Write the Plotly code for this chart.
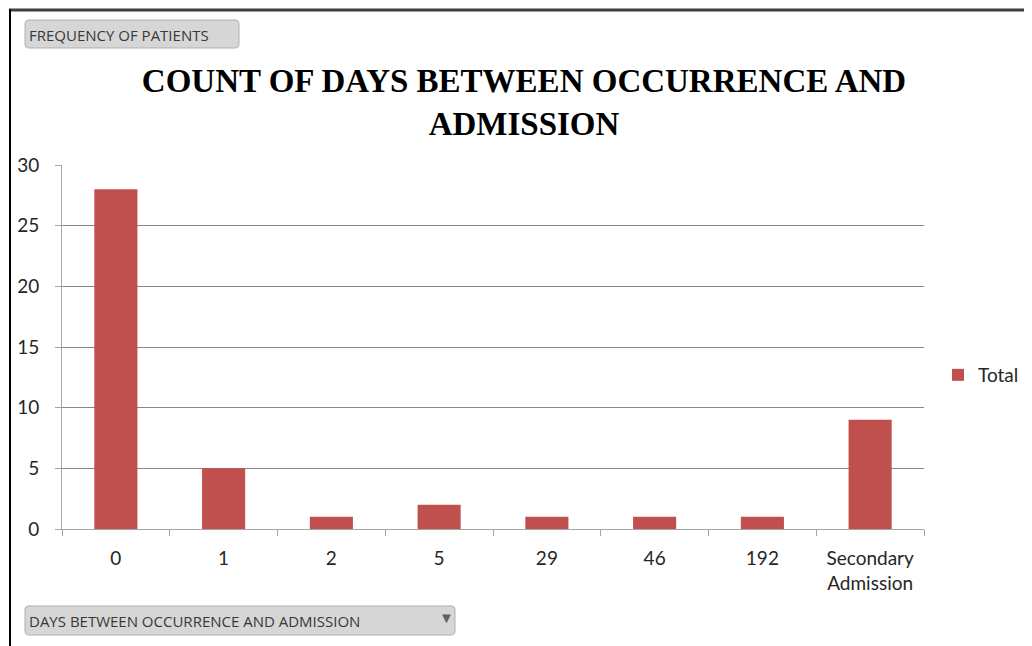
import plotly.graph_objects as go

categories = ["0", "1", "2", "5", "29", "46", "192", "Secondary<br>Admission"]
totals = [28, 5, 1, 2, 1, 1, 1, 9]
y_ticks = [0, 5, 10, 15, 20, 25, 30]

W, H = 1032, 646
OFF = 8  # page body margin shifts the figure
# plot area edges as seen on screen
L, R, T, B = 62, 924, 165, 529

BAR = "#c0504d"
TICK_FONT = dict(family="Lato, 'Open Sans', sans-serif", size=19, color="#262626")


def fx(px):
    # screen px -> paper x
    return (px - L) / (R - L)


def fy(py):
    # screen px -> paper y
    return (B - py) / (B - T)


def rounded_path(x0, y0, x1, y1, r=4):
    pts = [
        ("M", x0 + r, y0), ("L", x1 - r, y0), ("Q", x1, y0, x1, y0 + r),
        ("L", x1, y1 - r), ("Q", x1, y1, x1 - r, y1), ("L", x0 + r, y1),
        ("Q", x0, y1, x0, y1 - r), ("L", x0, y0 + r), ("Q", x0, y0, x0 + r, y0),
    ]
    out = []
    for p in pts:
        cmd, coords = p[0], p[1:]
        pairs = [f"{fx(coords[i]):.5f},{fy(coords[i + 1]):.5f}" for i in range(0, len(coords), 2)]
        out.append(cmd + " " + " ".join(pairs))
    return " ".join(out) + " Z"


fig = go.Figure()
fig.add_trace(
    go.Bar(
        x=categories,
        y=totals,
        name="Total",
        marker=dict(color=BAR, line=dict(width=0)),
    )
)

fig.update_layout(
    width=W,
    height=H,
    paper_bgcolor="white",
    plot_bgcolor="white",
    margin=dict(l=L - OFF, r=W - (R - OFF), t=T - OFF, b=H - (B - OFF), autoexpand=False),
    bargap=0.6,
    title=dict(
        text="COUNT OF DAYS BETWEEN OCCURRENCE AND<br>ADMISSION",
        x=(524 - OFF) / W,
        xanchor="center",
        y=1 - (92 - OFF) / H,
        yanchor="middle",
        font=dict(family="'Liberation Serif', 'Times New Roman', serif", size=33, color="black", weight="bold"),
    ),
    showlegend=True,
    legend=dict(
        xref="container",
        x=(938 - OFF) / W,
        y=fy(375),
        xanchor="left",
        yanchor="middle",
        font=TICK_FONT,
        bgcolor="rgba(0,0,0,0)",
    ),
    xaxis=dict(
        type="category",
        tickson="boundaries",
        ticks="outside",
        ticklen=6,
        tickcolor="#a6a6a6",
        showline=True,
        linecolor="#a6a6a6",
        linewidth=1,
        showgrid=False,
        tickfont=TICK_FONT,
        ticklabelstandoff=12,
    ),
    yaxis=dict(
        range=[0, 30],
        tickvals=y_ticks,
        ticks="outside",
        ticklen=6,
        tickcolor="#a6a6a6",
        showline=True,
        linecolor="#a6a6a6",
        linewidth=1,
        showgrid=True,
        gridcolor="#868686",
        gridwidth=1,
        zeroline=False,
        tickfont=TICK_FONT,
        ticklabelstandoff=12,
    ),
)

shapes = [
    # window frame lines (as close to the page edge as the figure reaches)
    dict(type="line", xref="paper", yref="paper", x0=fx(9), x1=fx(1040), y0=fy(10), y1=fy(10),
         line=dict(color="#404040", width=3)),
    dict(type="line", xref="paper", yref="paper", x0=fx(10), x1=fx(10), y0=fy(9), y1=fy(660),
         line=dict(color="black", width=2)),
    # field buttons
    dict(type="path", xref="paper", yref="paper", path=rounded_path(25, 20, 239, 48),
         fillcolor="#d6d6d6", line=dict(color="#b0b0b0", width=1)),
    dict(type="path", xref="paper", yref="paper", path=rounded_path(25, 606, 455, 635),
         fillcolor="#d6d6d6", line=dict(color="#b0b0b0", width=1)),
]
fig.update_layout(shapes=shapes)

BTN_FONT = dict(family="'Open Sans', 'Noto Sans', sans-serif", size=15, color="#383838")
fig.add_annotation(text="FREQUENCY OF PATIENTS", xref="paper", yref="paper",
                   x=fx(27), y=fy(35), xanchor="left", yanchor="middle",
                   showarrow=False, font=BTN_FONT)
fig.add_annotation(text="DAYS BETWEEN OCCURRENCE AND ADMISSION", xref="paper", yref="paper",
                   x=fx(27), y=fy(621), xanchor="left", yanchor="middle",
                   showarrow=False, font=BTN_FONT)
fig.add_annotation(text="▼", xref="paper", yref="paper",
                   x=fx(446), y=fy(617), xanchor="center", yanchor="middle",
                   showarrow=False, font=dict(size=15, color="#606060"))

fig.write_html("out.html")
